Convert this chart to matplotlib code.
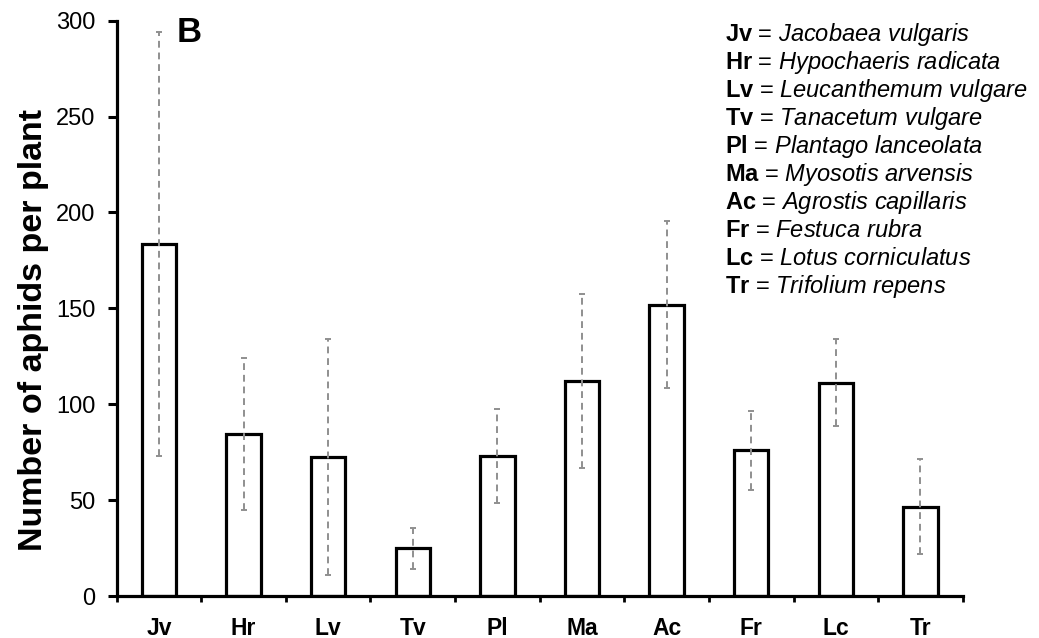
import numpy as np
import matplotlib
matplotlib.use("Agg")
import matplotlib.pyplot as plt
from matplotlib.ticker import FixedLocator

plt.rcParams["font.family"] = ["Liberation Sans", "DejaVu Sans"]
plt.rcParams["mathtext.fontset"] = "custom"
plt.rcParams["mathtext.rm"] = "Liberation Sans"
plt.rcParams["mathtext.it"] = "Liberation Sans:italic"
plt.rcParams["mathtext.bf"] = "Liberation Sans:bold"

# mean aphid counts per plant species, with error half-widths
species = ["Jv", "Hr", "Lv", "Tv", "Pl", "Ma", "Ac", "Fr", "Lc", "Tr"]
full_names = [
    "Jacobaea vulgaris",
    "Hypochaeris radicata",
    "Leucanthemum vulgare",
    "Tanacetum vulgare",
    "Plantago lanceolata",
    "Myosotis arvensis",
    "Agrostis capillaris",
    "Festuca rubra",
    "Lotus corniculatus",
    "Trifolium repens",
]
aphids = [183.5, 84.3, 72.6, 24.9, 72.8, 112.1, 152.0, 76.1, 111.2, 46.6]
err = [110.6, 39.6, 61.5, 10.8, 24.5, 45.5, 43.4, 20.6, 22.7, 24.7]

fig = plt.figure(figsize=(10.39, 6.38), dpi=100)
ax = fig.add_axes([0.1123, 0.0658, 0.8143, 0.9018])

x = np.arange(len(species))
ax.bar(x, aphids, width=0.405, color="white", edgecolor="black",
       linewidth=2.3, zorder=2)
eb = ax.errorbar(x, aphids, yerr=err, fmt="none", ecolor="#8f8f8f",
                 elinewidth=1.4, capsize=2.5, capthick=1.4, zorder=3)
for lc in eb[2]:
    lc.set_linestyle((0, (3.5, 2.5)))

ax.set_xlim(-0.5, len(species) - 0.5)
ax.set_ylim(0, 300)
ax.set_yticks([0, 50, 100, 150, 200, 250, 300])

ax.set_xticks(x)
ax.set_xticklabels(species, fontweight="bold", fontsize=16.5)
ax.xaxis.set_minor_locator(FixedLocator(np.arange(-0.5, len(species), 1.0)))
ax.tick_params(axis="x", which="major", length=0, pad=15)
ax.tick_params(axis="x", which="minor", length=4.5, width=2, direction="out")
ax.tick_params(axis="y", which="major", length=6.5, width=2.2,
               direction="out", labelsize=17, pad=9)

for side in ["top", "right"]:
    ax.spines[side].set_visible(False)
for side in ["left", "bottom"]:
    ax.spines[side].set_linewidth(2.3)

ax.set_ylabel("Number of aphids per plant", fontsize=24.5, fontweight="bold")
ax.yaxis.set_label_coords(-0.080, 0.462)

ax.text(0.071, 0.9635, "B", transform=ax.transAxes, fontsize=25,
        fontweight="bold", va="baseline", ha="left")

# key to species abbreviations
for i, (abbr, name) in enumerate(zip(species, full_names)):
    label = r"$\mathbf{%s}$ = $\mathit{%s}$" % (abbr, name.replace(" ", r"\ "))
    fig.text(0.6975, 0.935 - i * 0.0438, label, fontsize=17,
             va="baseline", ha="left")

fig.savefig("out.png", dpi=100)
